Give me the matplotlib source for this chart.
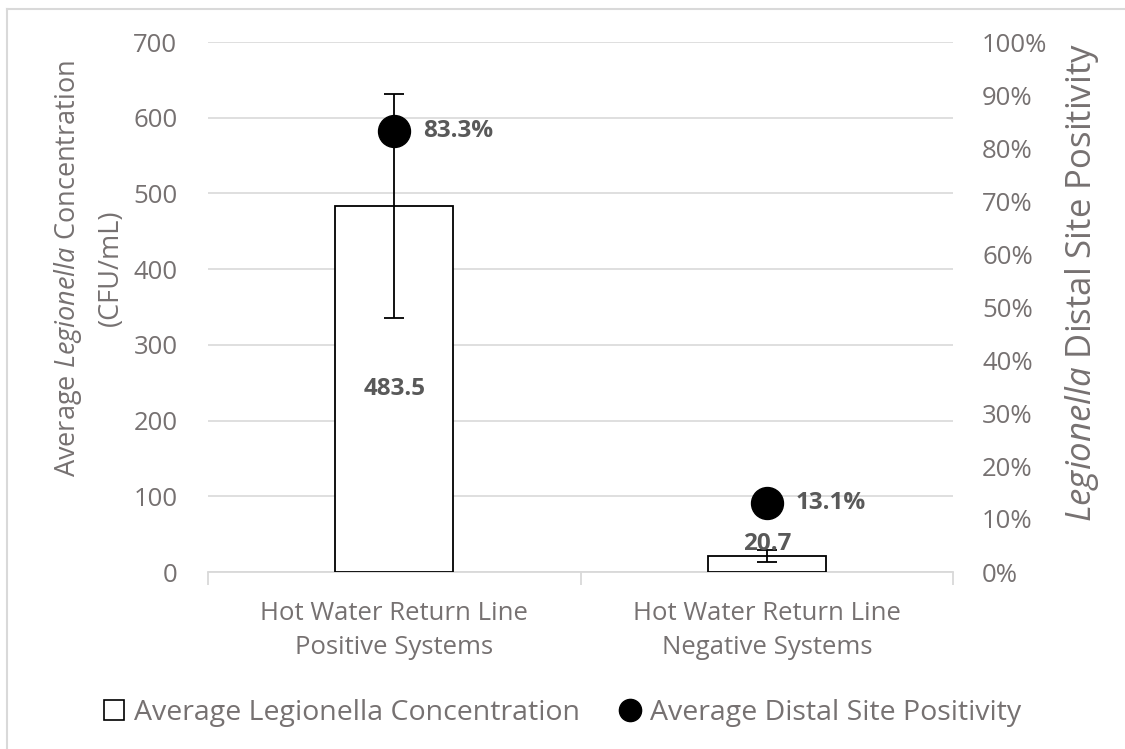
import matplotlib as mpl
import matplotlib.pyplot as plt
from matplotlib.lines import Line2D
from matplotlib.patches import Patch

mpl.rcParams['font.family'] = 'Open Sans'
mpl.rcParams['mathtext.fontset'] = 'custom'
mpl.rcParams['mathtext.it'] = 'Open Sans:italic'
mpl.rcParams['mathtext.rm'] = 'Open Sans'

categories = ['Hot Water Return Line\nPositive Systems',
              'Hot Water Return Line\nNegative Systems']
concentration = [483.5, 20.7]
conc_error = [147.5, 7.7]
positivity = [83.3, 13.1]

GRAY = '#767171'
TXT = '#595959'
GRID = '#d9d9d9'

fig = plt.figure(figsize=(11.25, 7.49), dpi=100)
W, H = 1125, 749
ax = fig.add_axes([208 / W, 1 - 572 / H, (953 - 208) / W, (572 - 42) / H])
ax2 = ax.twinx()

x = [0, 1]
ax.bar(x, concentration, width=0.317, facecolor='white', edgecolor='black',
       linewidth=1.3, zorder=3)
ax.errorbar(x, concentration, yerr=conc_error, fmt='none', ecolor='black',
            elinewidth=1.3, capsize=7, capthick=1.3, zorder=4)

ax.set_xlim(-0.5, 1.5)
ax.set_ylim(0, 700)
ax.set_yticks(range(0, 701, 100))
ax.yaxis.grid(True, color=GRID, linewidth=1.2, zorder=0)
ax.set_axisbelow(True)
for s in ['top', 'left', 'right']:
    ax.spines[s].set_visible(False)
ax.spines['bottom'].set_color(GRID)
ax.spines['bottom'].set_linewidth(1.3)
ax.set_xticks(x)
ax.set_xticklabels(categories, fontsize=18.5, color=GRAY, linespacing=1.45)
ax.set_xticks([-0.5, 0.5, 1.5], minor=True)
ax.tick_params(axis='x', which='major', length=0, pad=21)
ax.tick_params(axis='x', which='minor', length=9, color=GRID, width=1.3)
ax.tick_params(axis='y', length=0, labelsize=18.5, labelcolor=GRAY, pad=22)
ax.set_ylabel('Average $\\mathit{Legionella}$ Concentration\n(CFU/mL)',
              fontsize=19.5, color=GRAY, labelpad=6, linespacing=1.6)
ax.yaxis.label.set_y((572 - 268) / 530)

# bar value labels
ax.text(x[0], concentration[0] / 2, f'{concentration[0]}', ha='center',
        va='center', fontsize=17.5, fontweight='bold', color=TXT, zorder=5)
ax.text(x[1], concentration[1] + 16, f'{concentration[1]}', ha='center',
        va='center', fontsize=17.5, fontweight='bold', color=TXT, zorder=5)

ax2.plot(x, positivity, linestyle='none', marker='o', markersize=23,
         color='black', zorder=6)
for xi, p in zip(x, positivity):
    ax2.annotate(f'{p}%', (xi, p), xytext=(21, 0), textcoords='offset points',
                 ha='left', va='center', fontsize=17.5, fontweight='bold',
                 color=TXT)
ax2.set_ylim(0, 100)
ax2.set_yticks(range(0, 101, 10))
ax2.set_yticklabels([f'{v}%' for v in range(0, 101, 10)])
for s in ['top', 'left', 'right', 'bottom']:
    ax2.spines[s].set_visible(False)
ax2.tick_params(axis='y', length=0, labelsize=18.5, labelcolor=GRAY, pad=21)
ax2.set_ylabel('$\\mathit{Legionella}$ Distal Site Positivity', fontsize=25,
               color=GRAY, labelpad=11)
ax2.yaxis.label.set_y((572 - 283) / 530)

handles = [Patch(facecolor='white', edgecolor='black', linewidth=1.2),
           Line2D([], [], linestyle='none', marker='o', markersize=16,
                  color='black')]
fig.legend(handles, ['Average Legionella Concentration',
                     'Average Distal Site Positivity'],
           loc='center', bbox_to_anchor=(0.5, 1 - 713 / H), ncol=2,
           frameon=False, fontsize=20.5, labelcolor=GRAY, handlelength=0.7,
           handletextpad=0.35, columnspacing=1.4, handleheight=0.7)

# chart area border
fig.add_artist(Line2D([7 / W, 7 / W], [0, 1 - 9 / H], color=GRID, lw=1.5,
                      transform=fig.transFigure))
fig.add_artist(Line2D([7 / W, 1], [1 - 9 / H, 1 - 9 / H], color=GRID, lw=1.5,
                      transform=fig.transFigure))

fig.savefig('out.png', dpi=100)
